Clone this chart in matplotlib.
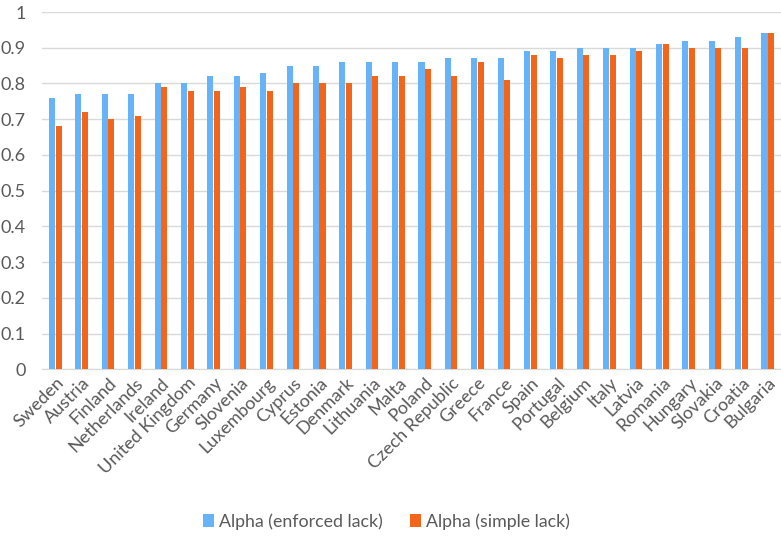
import numpy as np
import matplotlib.pyplot as plt

# Countries sorted by enforced-lack alpha
countries = ["Sweden", "Austria", "Finland", "Netherlands", "Ireland", "United Kingdom",
             "Germany", "Slovenia", "Luxembourg", "Cyprus", "Estonia", "Denmark",
             "Lithuania", "Malta", "Poland", "Czech Republic", "Greece", "France",
             "Spain", "Portugal", "Belgium", "Italy", "Latvia", "Romania", "Hungary",
             "Slovakia", "Croatia", "Bulgaria"]
alpha_enforced = [0.76, 0.77, 0.77, 0.77, 0.80, 0.80, 0.82, 0.82, 0.83, 0.85, 0.85, 0.86,
                  0.86, 0.86, 0.86, 0.87, 0.87, 0.87, 0.89, 0.89, 0.90, 0.90, 0.90, 0.91,
                  0.92, 0.92, 0.93, 0.94]
alpha_simple = [0.68, 0.72, 0.70, 0.71, 0.79, 0.78, 0.78, 0.79, 0.78, 0.80, 0.80, 0.80,
                0.82, 0.82, 0.84, 0.82, 0.86, 0.81, 0.88, 0.87, 0.88, 0.88, 0.89, 0.91,
                0.90, 0.90, 0.90, 0.94]
yticks = [0, 0.1, 0.2, 0.3, 0.4, 0.5, 0.6, 0.7, 0.8, 0.9, 1]

plt.rcParams['font.family'] = ['Lato', 'DejaVu Sans']
text_grey = '#595959'
blue = '#66B3F7'
orange = '#F4651C'

fig = plt.figure(figsize=(7.81, 5.47), dpi=100)
ax = fig.add_axes([0.054, 0.325, 0.946, 0.653])

x = np.arange(len(countries))
w = 0.23
ax.bar(x - 0.125, alpha_enforced, w, color=blue, label='Alpha (enforced lack)', zorder=3)
ax.bar(x + 0.125, alpha_simple, w, color=orange, label='Alpha (simple lack)', zorder=3)

ax.set_xlim(-0.5, len(countries) - 0.5)
ax.set_ylim(0, 1)
ax.set_yticks(yticks)
ax.set_yticklabels([f"{v:g}" for v in yticks], fontsize=13, color=text_grey)
ax.set_xticks(x)
ax.set_xticklabels(countries, rotation=45, ha='right', rotation_mode='anchor',
                   fontsize=13, color=text_grey)
ax.tick_params(axis='both', length=0, pad=4)
ax.tick_params(axis='y', pad=12)

# Excel style grid, no frame
ax.grid(axis='y', color='#D9D9D9', linewidth=1, zorder=0)
for s in ['top', 'right', 'left']:
    ax.spines[s].set_visible(False)
ax.spines['bottom'].set_color('#D9D9D9')

fig.legend(loc='lower center', bbox_to_anchor=(0.495, 0.002), ncol=2, frameon=False,
           fontsize=12.8, labelcolor=text_grey, handlelength=0.6, handleheight=0.7,
           handletextpad=0.3, columnspacing=1.5)

plt.savefig('out.png', dpi=100)
